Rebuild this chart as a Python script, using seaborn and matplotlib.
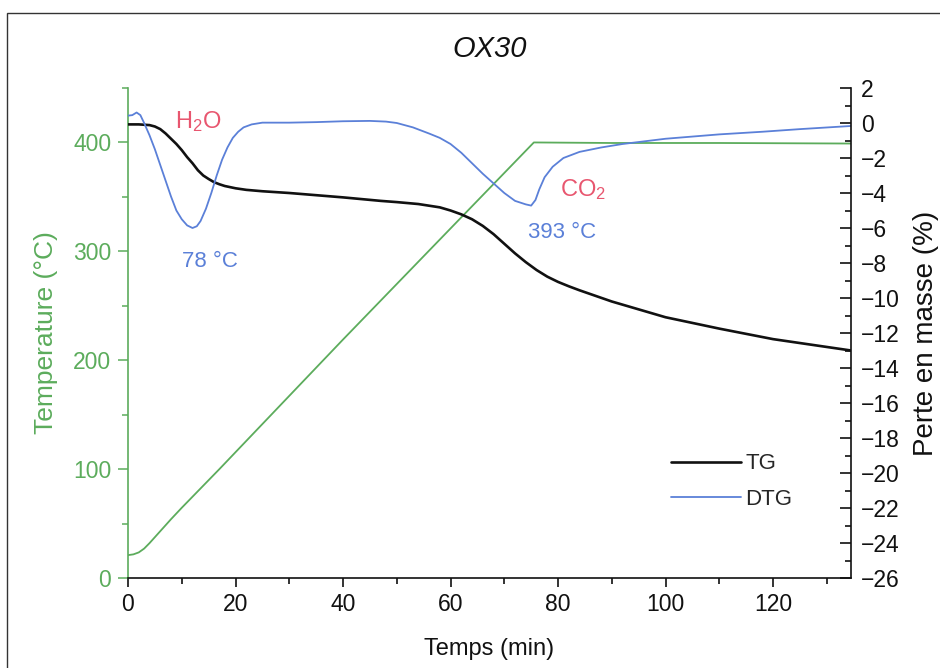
import matplotlib
matplotlib.use('Agg')
import matplotlib.pyplot as plt
import seaborn as sns
import pandas as pd
from matplotlib.patches import Rectangle
from matplotlib.ticker import MultipleLocator

# Temperature programme (min, deg C) - left axis
temp_time = [0, 1, 2, 3, 4, 5, 6, 7, 8, 10, 17, 40, 60, 75.5, 90, 110, 134.5]
temp_values = [21, 21.7, 23.5, 27, 32, 37.5, 43, 48.5, 54, 64.5, 100, 219, 321,
               400, 399.5, 399.5, 399]

# TG mass loss (%) - right axis
tg_time = [0, 2, 4, 5, 6, 7, 8, 9, 10, 11, 12, 13, 14, 15, 16, 17, 18, 20, 22,
           25, 30, 40, 47, 50, 54, 58, 60, 62, 64, 66, 68, 70, 72, 74, 76, 78,
           80, 82, 84, 87, 90, 100, 110, 120, 134.5]
tg_values = [-0.08, -0.08, -0.12, -0.2, -0.35, -0.6, -0.9, -1.2, -1.55, -1.95,
             -2.3, -2.7, -3.0, -3.2, -3.38, -3.5, -3.6, -3.73, -3.82, -3.9,
             -4.0, -4.25, -4.45, -4.52, -4.63, -4.82, -5.0, -5.22, -5.5, -5.88,
             -6.35, -6.9, -7.45, -7.95, -8.4, -8.78, -9.08, -9.33, -9.56,
             -9.88, -10.2, -11.1, -11.75, -12.35, -13.0]

# DTG signal - right axis
dtg_time = [0, 0.8, 1.6, 2.3, 3, 4, 5, 6, 7, 8, 9, 10, 11, 12, 12.8, 13.5,
            14.5, 15.5, 16.5, 17.5, 18.5, 19.5, 20.5, 21.5, 23, 25, 30, 35, 40,
            45, 48, 50, 53, 56, 58, 60, 62, 64, 66, 68, 70, 72, 74, 75, 75.8,
            76.5, 77.5, 79, 81, 84, 88, 92, 96, 100, 110, 118, 125, 134.5]
dtg_values = [0.42, 0.45, 0.6, 0.45, 0.0, -0.7, -1.5, -2.4, -3.3, -4.2, -5.0,
              -5.5, -5.85, -6.0, -5.9, -5.6, -4.9, -4.0, -3.0, -2.1, -1.4,
              -0.85, -0.5, -0.25, -0.08, 0.02, 0.02, 0.05, 0.1, 0.12, 0.08,
              0.0, -0.25, -0.6, -0.85, -1.2, -1.7, -2.3, -2.9, -3.45, -4.0,
              -4.45, -4.65, -4.72, -4.4, -3.8, -3.1, -2.5, -2.0, -1.65, -1.4,
              -1.2, -1.05, -0.9, -0.65, -0.5, -0.35, -0.17]

green = '#5cac5c'
blue = '#5b80d8'
pink = '#e8566f'

sns.set_theme(style='ticks')
plt.rcParams['font.family'] = ['Liberation Sans', 'DejaVu Sans']
plt.rcParams['mathtext.fontset'] = 'custom'
plt.rcParams['mathtext.rm'] = 'Liberation Sans'
plt.rcParams['mathtext.it'] = 'Liberation Sans:italic'

fig = plt.figure(figsize=(9.4, 6.68), dpi=100)
ax = fig.add_axes([128 / 940, 1 - 578 / 668, 723 / 940, 490 / 668])
ax2 = ax.twinx()

temp_df = pd.DataFrame({'t': temp_time, 'T': temp_values})
tg_df = pd.DataFrame({'t': tg_time, 'v': tg_values})
dtg_df = pd.DataFrame({'t': dtg_time, 'v': dtg_values})

sns.lineplot(data=temp_df, x='t', y='T', ax=ax, color=green, lw=1.3)
sns.lineplot(data=tg_df, x='t', y='v', ax=ax2, color='#111111', lw=1.9, label='TG')
sns.lineplot(data=dtg_df, x='t', y='v', ax=ax2, color=blue, lw=1.3, label='DTG')

ax.set_xlim(0, 134.5)
ax.set_ylim(0, 450)
ax2.set_ylim(-26, 2)

ax.xaxis.set_major_locator(MultipleLocator(20))
ax.xaxis.set_minor_locator(MultipleLocator(10))
ax.yaxis.set_major_locator(MultipleLocator(100))
ax.yaxis.set_minor_locator(MultipleLocator(50))
ax2.yaxis.set_major_locator(MultipleLocator(2))
ax2.yaxis.set_minor_locator(MultipleLocator(1))

for a in (ax, ax2):
    a.spines['top'].set_visible(False)
ax.spines['right'].set_visible(False)
ax2.spines['left'].set_visible(False)
ax2.spines['bottom'].set_visible(False)
ax.spines['left'].set_color(green)
ax.spines['bottom'].set_color('#111111')
ax2.spines['right'].set_color('#111111')
for s in ('left', 'bottom'):
    ax.spines[s].set_linewidth(1.2)
ax2.spines['right'].set_linewidth(1.2)

ax.tick_params(axis='x', which='major', direction='out', length=6.5, width=1.2,
               color='#111111', labelsize=16.5, labelcolor='#111111', pad=4)
ax.tick_params(axis='x', which='minor', direction='out', length=4, width=1.2,
               color='#111111')
ax.tick_params(axis='y', which='major', direction='out', length=7, width=1.1,
               color=green, labelsize=16.5, labelcolor=green, pad=5)
ax.tick_params(axis='y', which='minor', direction='out', length=4, width=1.1,
               color=green)
ax2.tick_params(axis='y', which='major', direction='in', length=8, width=1.2,
                color='#111111', labelsize=16.5, labelcolor='#111111', pad=7)
ax2.tick_params(axis='y', which='minor', direction='in', length=4.5, width=1.2,
                color='#111111')

ax.set_xlabel('Temps (min)', fontsize=17, color='#111111', labelpad=16)
ax.set_ylabel('Temperature (°C)', fontsize=19, color=green, labelpad=11)
ax2.set_ylabel('Perte en masse (%)', fontsize=20, color='#111111', labelpad=10)
ax.set_title('OX30', fontsize=21, style='italic', color='#111111', pad=22)

ax2.text(13, 0.1, r'H$_2$O', color=pink, fontsize=17, ha='center', va='center')
ax2.text(15.3, -7.9, '78 °C', color=blue, fontsize=16, ha='center', va='center')
ax2.text(84.7, -3.8, r'CO$_2$', color=pink, fontsize=17, ha='center', va='center')
ax2.text(80.7, -6.25, '393 °C', color=blue, fontsize=16, ha='center', va='center')

leg = ax2.legend(loc='upper left', bbox_to_anchor=(0.723, 0.295), frameon=False,
                 fontsize=16, handlelength=3.15, handletextpad=0.2,
                 labelspacing=0.65)

fig.add_artist(Rectangle((7 / 940, -0.05), 1.1, 1 - 13 / 668 + 0.05,
                         transform=fig.transFigure, fill=False,
                         edgecolor='#333333', lw=1.0))

fig.savefig('out.png', dpi=100, facecolor='white')
